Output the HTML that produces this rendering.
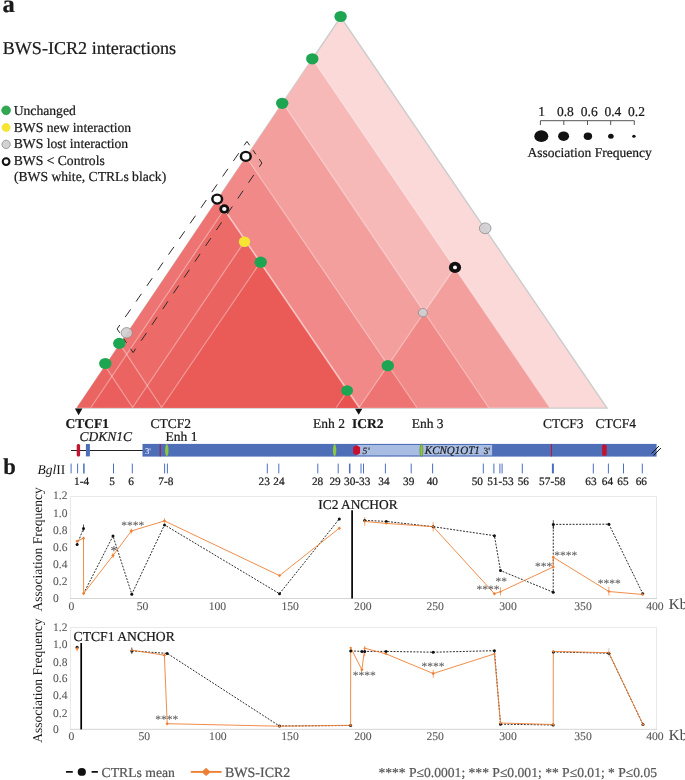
<!DOCTYPE html>
<html lang="en">
<head>
<meta charset="utf-8">
<title>BWS-ICR2 interactions</title>
<style>
html,body{margin:0;padding:0;background:#fff;}
body{width:685px;height:780px;overflow:hidden;}
svg{display:block;font-family:"Liberation Serif", "DejaVu Serif", serif;}
text{white-space:pre;text-rendering:geometricPrecision;}
</style>
</head>
<body>
<svg width="685" height="780" viewBox="0 0 685 780">
<rect width="685" height="780" fill="#fff"/>
<g id="heat">
<polygon points="76.8,408.1 340.7,17.0 607.0,408.1" fill="#fad9d8" stroke="#cccccc" stroke-width="1.4" stroke-linejoin="miter"/>
<polygon points="77.2,407.5 312.4,59.0 549.7,407.5" fill="#f7b9b8"/>
<polygon points="77.2,407.5 282.8,102.8 488.6,407.5" fill="#f39f9d"/>
<polygon points="77.2,407.5 246.2,157.0 416.8,407.5" fill="#f08987"/>
<polygon points="77.2,407.5 217.5,199.6 359.2,407.5" fill="#ed7472"/>
<polygon points="90.9,407.5 224.2,209.5 359.2,407.5" fill="#ec6b68"/>
<polygon points="132.6,407.5 245.3,240.4 359.2,407.5" fill="#ea6360"/>
<polygon points="161.6,407.5 260.3,262.4 359.2,407.5" fill="#ea5b58"/>
<polygon points="359.2,407.5 454.6,267.9 549.7,407.5" fill="#f39f9d"/>
<polygon points="359.2,407.5 424.3,312.3 488.6,407.5" fill="#f08987"/>
<polygon points="359.2,407.5 388.1,365.3 416.8,407.5" fill="#ed7472"/>
<polygon points="336.3,407.5 347.7,390.7 359.2,407.5" fill="#e8524f"/>
<polygon points="77.2,407.5 119.9,344.2 161.6,407.5" fill="#e8514e" fill-opacity="0.25"/>
<polygon points="77.2,407.5 105.1,366.1 132.6,407.5" fill="#e8514e" fill-opacity="0.25"/>
<line x1="312.4" y1="59.0" x2="549.7" y2="407.5" stroke="#fff" stroke-opacity="0.38" stroke-width="1.2"/>
<line x1="282.8" y1="102.8" x2="488.6" y2="407.5" stroke="#fff" stroke-opacity="0.38" stroke-width="1.2"/>
<line x1="246.2" y1="157.0" x2="416.8" y2="407.5" stroke="#fff" stroke-opacity="0.38" stroke-width="1.2"/>
<line x1="217.5" y1="199.6" x2="359.2" y2="407.5" stroke="#fff" stroke-opacity="0.62" stroke-width="1.5"/>
<line x1="90.9" y1="407.5" x2="224.2" y2="209.5" stroke="#fff" stroke-opacity="0.38" stroke-width="1.2"/>
<line x1="132.6" y1="407.5" x2="245.3" y2="240.4" stroke="#fff" stroke-opacity="0.38" stroke-width="1.2"/>
<line x1="161.6" y1="407.5" x2="260.3" y2="262.4" stroke="#fff" stroke-opacity="0.38" stroke-width="1.2"/>
<line x1="336.3" y1="407.5" x2="347.7" y2="390.7" stroke="#fff" stroke-opacity="0.38" stroke-width="1.2"/>
<line x1="359.2" y1="407.5" x2="454.6" y2="267.9" stroke="#fff" stroke-opacity="0.38" stroke-width="1.2"/>
<line x1="105.1" y1="366.1" x2="132.6" y2="407.5" stroke="#fff" stroke-opacity="0.38" stroke-width="1.2"/>
<line x1="119.9" y1="344.2" x2="161.6" y2="407.5" stroke="#fff" stroke-opacity="0.38" stroke-width="1.2"/>
</g>
<path d="M246.9 141.4L244.2 145.3M238.8 153.2L233.4 160.9M227.9 168.8L222.6 176.5M217.1 184.4L211.8 192.1M206.3 200.0L201.0 207.8M195.5 215.7L190.1 223.4M184.7 231.3L179.3 239.0M173.9 246.9L168.5 254.6M163.0 262.5L157.7 270.3M152.2 278.2L146.9 285.9M141.4 293.8L136.1 301.5M130.6 309.4L125.2 317.1M119.8 325.0L117.1 328.9M261.9 163.0L259.3 166.9M253.8 174.9L248.5 182.7M243.1 190.7L237.8 198.5M232.3 206.5L227.1 214.3M221.6 222.3L216.3 230.1M210.9 238.1L205.6 245.9M200.1 253.9L194.9 261.7M189.4 269.7L184.1 277.5M178.7 285.5L173.4 293.3M167.9 301.3L162.7 309.1M157.2 317.1L151.9 324.9M146.5 332.9L141.2 340.7M135.7 348.7L133.1 352.6M246.9 141.4L249.6 145.3M253.0 150.1L255.8 154.3M259.2 159.1L261.9 163.0M117.1 328.9L119.7 332.8M123.7 338.7L126.5 342.8M130.5 348.7L133.1 352.6" fill="none" stroke="#2b2b2b" stroke-width="1"/>
<ellipse cx="340.6" cy="16.5" rx="6.2" ry="5.6" fill="#1ea552"/>
<ellipse cx="312.3" cy="58.8" rx="6.2" ry="5.6" fill="#1ea552"/>
<ellipse cx="282.2" cy="103.3" rx="6.2" ry="5.6" fill="#1ea552"/>
<ellipse cx="260.7" cy="262.2" rx="6.2" ry="5.6" fill="#1ea552"/>
<ellipse cx="347.1" cy="390.5" rx="5.9" ry="5.3" fill="#1ea552"/>
<ellipse cx="387.8" cy="365.7" rx="6.2" ry="5.6" fill="#1ea552"/>
<ellipse cx="105.3" cy="363.5" rx="6.2" ry="5.6" fill="#1ea552"/>
<ellipse cx="119.3" cy="343.4" rx="6.2" ry="5.6" fill="#1ea552"/>
<ellipse cx="126.7" cy="332.8" rx="5.6" ry="5.21" fill="#cfcfd3" fill-opacity="0.9" stroke="#8a8a8a" stroke-width="0.8"/>
<ellipse cx="485.2" cy="228.3" rx="5.8" ry="5.39" fill="#cfcfd3" fill-opacity="0.9" stroke="#8a8a8a" stroke-width="0.8"/>
<ellipse cx="422.9" cy="312.7" rx="4.5" ry="4.19" fill="#cfcfd3" fill-opacity="0.9" stroke="#8a8a8a" stroke-width="0.8"/>
<ellipse cx="244.5" cy="241.7" rx="5.7" ry="5.2" fill="#f7e534"/>
<ellipse cx="245.8" cy="156.4" rx="6.1" ry="5.61" fill="#111"/>
<ellipse cx="245.8" cy="156.4" rx="3.6" ry="3.31" fill="#fff"/>
<ellipse cx="217.2" cy="199.1" rx="6.1" ry="5.61" fill="#111"/>
<ellipse cx="217.2" cy="199.1" rx="3.6" ry="3.31" fill="#fff"/>
<ellipse cx="224.3" cy="208.9" rx="5.0" ry="4.60" fill="#111"/>
<ellipse cx="224.3" cy="208.9" rx="2.2" ry="2.02" fill="#fff"/>
<ellipse cx="455" cy="267.4" rx="6.1" ry="5.61" fill="#111"/>
<ellipse cx="455" cy="267.4" rx="2.0" ry="1.84" fill="#fff"/>
<text x="2.5" y="11.9" font-size="24.5" font-weight="bold" fill="#1a1a1a" stroke="#1a1a1a" stroke-width="0.22">a</text>
<text x="2.7" y="53.7" font-size="18.1" fill="#1a1a1a" stroke="#1a1a1a" stroke-width="0.22">BWS-ICR2 interactions</text>
<circle cx="6.1" cy="110.3" r="4.4" fill="#2fa84f" stroke="#1d8f3f" stroke-width="0.6"/>
<text x="13.7" y="115" font-size="13.65" fill="#1a1a1a" stroke="#1a1a1a" stroke-width="0.22">Unchanged</text>
<circle cx="6.1" cy="127.5" r="4.4" fill="#f7e534"/>
<text x="13.7" y="131.6" font-size="13.65" fill="#1a1a1a" stroke="#1a1a1a" stroke-width="0.22">BWS new interaction</text>
<circle cx="6.1" cy="144.4" r="4.2" fill="#d2d2d2" stroke="#808080" stroke-width="0.7"/>
<text x="13.7" y="148.3" font-size="13.65" fill="#1a1a1a" stroke="#1a1a1a" stroke-width="0.22">BWS lost interaction</text>
<circle cx="6.1" cy="161.6" r="3.4" fill="#fff" stroke="#111" stroke-width="2"/>
<text x="13.7" y="165.2" font-size="13.65" fill="#1a1a1a" stroke="#1a1a1a" stroke-width="0.22">BWS &lt; Controls</text>
<text x="13.9" y="181" font-size="13.65" fill="#1a1a1a" stroke="#1a1a1a" stroke-width="0.22">(BWS white, CTRLs black)</text>
<text x="541.5" y="115.8" font-size="13.5" text-anchor="middle" fill="#1a1a1a" stroke="#1a1a1a" stroke-width="0.22">1</text>
<text x="565.4" y="115.8" font-size="13.5" text-anchor="middle" fill="#1a1a1a" stroke="#1a1a1a" stroke-width="0.22">0.8</text>
<text x="589.2" y="115.8" font-size="13.5" text-anchor="middle" fill="#1a1a1a" stroke="#1a1a1a" stroke-width="0.22">0.6</text>
<text x="612.9" y="115.8" font-size="13.5" text-anchor="middle" fill="#1a1a1a" stroke="#1a1a1a" stroke-width="0.22">0.4</text>
<text x="636.5" y="115.8" font-size="13.5" text-anchor="middle" fill="#1a1a1a" stroke="#1a1a1a" stroke-width="0.22">0.2</text>
<path d="M540.4 125 V120.7 H634.3 V125 M563.8 120.7 V125 M587.5 120.7 V125 M610.7 120.7 V125" fill="none" stroke="#555" stroke-width="1"/>
<ellipse cx="541.3" cy="136.2" rx="7" ry="5.9" fill="#111"/>
<ellipse cx="563.6" cy="136.2" rx="5.5" ry="4.8" fill="#111"/>
<ellipse cx="587.9" cy="136.2" rx="4.2" ry="3.7" fill="#111"/>
<ellipse cx="610.9" cy="136.2" rx="2.8" ry="2.5" fill="#111"/>
<ellipse cx="633.9" cy="136.2" rx="1.7" ry="1.5" fill="#111"/>
<text x="527.6" y="157.4" font-size="13.5" fill="#1a1a1a" stroke="#1a1a1a" stroke-width="0.22">Association Frequency</text>
<polygon points="74.9,408.4 82.4,408.4 78.65,415.2" fill="#111"/>
<polygon points="355.1,408.8 362.3,408.8 358.7,414.8" fill="#111"/>
<text x="65.6" y="428.2" font-size="13.5" font-weight="bold" fill="#1a1a1a" stroke="#1a1a1a" stroke-width="0.22">CTCF1</text>
<text x="79.6" y="440.7" font-size="13.5" font-style="italic" fill="#1a1a1a" stroke="#1a1a1a" stroke-width="0.22">CDKN1C</text>
<text x="150.6" y="428.3" font-size="13.5" fill="#1a1a1a" stroke="#1a1a1a" stroke-width="0.22">CTCF2</text>
<text x="165.6" y="440.7" font-size="13.5" fill="#1a1a1a" stroke="#1a1a1a" stroke-width="0.22">Enh 1</text>
<text x="313.1" y="428.2" font-size="13.5" fill="#1a1a1a" stroke="#1a1a1a" stroke-width="0.22">Enh 2</text>
<text x="352" y="428.2" font-size="13.5" font-weight="bold" fill="#1a1a1a" stroke="#1a1a1a" stroke-width="0.22">ICR2</text>
<text x="411.7" y="428.2" font-size="13.5" fill="#1a1a1a" stroke="#1a1a1a" stroke-width="0.22">Enh 3</text>
<text x="543.1" y="428.2" font-size="13.5" fill="#1a1a1a" stroke="#1a1a1a" stroke-width="0.22">CTCF3</text>
<text x="595.4" y="428.2" font-size="13.5" fill="#1a1a1a" stroke="#1a1a1a" stroke-width="0.22">CTCF4</text>
<line x1="71" y1="450.5" x2="143" y2="450.5" stroke="#222" stroke-width="1"/>
<rect x="76.7" y="444.0" width="3.4" height="12.4" rx="1.5" fill="#c2132f"/>
<rect x="85.9" y="444.0" width="4" height="12.4" fill="#4e6fb8"/>
<rect x="142.5" y="443.9" width="514.1" height="12.7" fill="#4e6fb8"/>
<rect x="356" y="445.0" width="136.1" height="10.4" fill="#a9bde3"/>
<text x="145" y="453.7" font-size="8.6" fill="#fff">3'</text>
<line x1="160.2" y1="444" x2="160.2" y2="456.4" stroke="#a3173a" stroke-width="1"/>
<ellipse cx="166.8" cy="450.2" rx="1.7" ry="6.1" fill="#8dc63f"/>
<ellipse cx="334.6" cy="450.2" rx="1.7" ry="6.1" fill="#8dc63f"/>
<ellipse cx="421.4" cy="450.3" rx="1.5" ry="6.2" fill="#8dc63f" stroke="#5f7f2c" stroke-width="0.6"/>
<polygon points="356.6,445.0 360.1,447.3 360.1,453.3 356.6,455.2 353.1,453.3 353.1,447.3" fill="#c8102e"/>
<text x="362.6" y="453.9" font-size="9.7" font-style="italic" fill="#2a2a2a" stroke="#2a2a2a" stroke-width="0.22">5'</text>
<text x="424.8" y="453.9" font-size="11.5" font-style="italic" fill="#1a1a1a" textLength="55" lengthAdjust="spacingAndGlyphs" stroke="#1a1a1a" stroke-width="0.22">KCNQ1OT1</text>
<text x="483.4" y="453.9" font-size="9.5" fill="#1a1a1a" stroke="#1a1a1a" stroke-width="0.22">3'</text>
<line x1="551.4" y1="444" x2="551.4" y2="456.4" stroke="#c2132f" stroke-width="1"/>
<rect x="602.1" y="444.6" width="4.6" height="11.2" rx="1.5" fill="#c2132f"/>
<path d="M651.5 453.5 L658.9 446.1 M653.5 455.5 L660.9 448.0" stroke="#111" stroke-width="1" fill="none"/>
<text x="3.2" y="473.6" font-size="22.6" font-weight="bold" fill="#1a1a1a" stroke="#1a1a1a" stroke-width="0.22">b</text>
<text x="37.6" y="473.6" font-size="13.5" fill="#1a1a1a"><tspan font-style="italic">Bgl</tspan>II</text>
<line x1="71.1" y1="463.6" x2="71.1" y2="473.4" stroke="#4a6fc4" stroke-width="1"/>
<line x1="77.6" y1="463.6" x2="77.6" y2="473.4" stroke="#4a6fc4" stroke-width="1"/>
<line x1="83.9" y1="463.6" x2="83.9" y2="473.4" stroke="#4a6fc4" stroke-width="1.5"/>
<line x1="113.5" y1="463.6" x2="113.5" y2="473.4" stroke="#4a6fc4" stroke-width="1"/>
<line x1="132.3" y1="463.6" x2="132.3" y2="473.4" stroke="#4a6fc4" stroke-width="1"/>
<line x1="164.6" y1="463.6" x2="164.6" y2="473.4" stroke="#4a6fc4" stroke-width="1"/>
<line x1="167.4" y1="463.6" x2="167.4" y2="473.4" stroke="#4a6fc4" stroke-width="1"/>
<line x1="267.3" y1="463.6" x2="267.3" y2="473.4" stroke="#4a6fc4" stroke-width="1"/>
<line x1="278.8" y1="463.6" x2="278.8" y2="473.4" stroke="#4a6fc4" stroke-width="1"/>
<line x1="317.8" y1="463.6" x2="317.8" y2="473.4" stroke="#4a6fc4" stroke-width="1"/>
<line x1="338.2" y1="463.6" x2="338.2" y2="473.4" stroke="#4a6fc4" stroke-width="1"/>
<line x1="349.7" y1="463.6" x2="349.7" y2="473.4" stroke="#4a6fc4" stroke-width="1.5"/>
<line x1="361" y1="463.6" x2="361" y2="473.4" stroke="#4a6fc4" stroke-width="1"/>
<line x1="363.5" y1="463.6" x2="363.5" y2="473.4" stroke="#4a6fc4" stroke-width="1"/>
<line x1="385.4" y1="463.6" x2="385.4" y2="473.4" stroke="#4a6fc4" stroke-width="1"/>
<line x1="411.2" y1="463.6" x2="411.2" y2="473.4" stroke="#4a6fc4" stroke-width="1"/>
<line x1="432.6" y1="463.6" x2="432.6" y2="473.4" stroke="#4a6fc4" stroke-width="1"/>
<line x1="483.3" y1="463.6" x2="483.3" y2="473.4" stroke="#4a6fc4" stroke-width="1"/>
<line x1="493.9" y1="463.6" x2="493.9" y2="473.4" stroke="#4a6fc4" stroke-width="1"/>
<line x1="499.9" y1="463.6" x2="499.9" y2="473.4" stroke="#4a6fc4" stroke-width="1"/>
<line x1="502.1" y1="463.6" x2="502.1" y2="473.4" stroke="#4a6fc4" stroke-width="1"/>
<line x1="522.3" y1="463.6" x2="522.3" y2="473.4" stroke="#4a6fc4" stroke-width="1"/>
<line x1="552.9" y1="463.6" x2="552.9" y2="473.4" stroke="#4a6fc4" stroke-width="2"/>
<line x1="593.3" y1="463.6" x2="593.3" y2="473.4" stroke="#4a6fc4" stroke-width="1"/>
<line x1="608.4" y1="463.6" x2="608.4" y2="473.4" stroke="#4a6fc4" stroke-width="1"/>
<line x1="623.5" y1="463.6" x2="623.5" y2="473.4" stroke="#4a6fc4" stroke-width="1"/>
<line x1="642.3" y1="463.6" x2="642.3" y2="473.4" stroke="#4a6fc4" stroke-width="1"/>
<text x="81.6" y="484.9" font-size="11.3" text-anchor="middle" fill="#1a1a1a" stroke="#1a1a1a" stroke-width="0.22">1-4</text>
<text x="112" y="484.9" font-size="11.3" text-anchor="middle" fill="#1a1a1a" stroke="#1a1a1a" stroke-width="0.22">5</text>
<text x="131" y="484.9" font-size="11.3" text-anchor="middle" fill="#1a1a1a" stroke="#1a1a1a" stroke-width="0.22">6</text>
<text x="165.9" y="484.9" font-size="11.3" text-anchor="middle" fill="#1a1a1a" stroke="#1a1a1a" stroke-width="0.22">7-8</text>
<text x="264.2" y="484.9" font-size="11.3" text-anchor="middle" fill="#1a1a1a" stroke="#1a1a1a" stroke-width="0.22">23</text>
<text x="279" y="484.9" font-size="11.3" text-anchor="middle" fill="#1a1a1a" stroke="#1a1a1a" stroke-width="0.22">24</text>
<text x="317.6" y="484.9" font-size="11.3" text-anchor="middle" fill="#1a1a1a" stroke="#1a1a1a" stroke-width="0.22">28</text>
<text x="335.1" y="484.9" font-size="11.3" text-anchor="middle" fill="#1a1a1a" stroke="#1a1a1a" stroke-width="0.22">29</text>
<text x="357.2" y="484.9" font-size="11.3" text-anchor="middle" fill="#1a1a1a" stroke="#1a1a1a" stroke-width="0.22">30-33</text>
<text x="383.9" y="484.9" font-size="11.3" text-anchor="middle" fill="#1a1a1a" stroke="#1a1a1a" stroke-width="0.22">34</text>
<text x="408.7" y="484.9" font-size="11.3" text-anchor="middle" fill="#1a1a1a" stroke="#1a1a1a" stroke-width="0.22">39</text>
<text x="432.3" y="484.9" font-size="11.3" text-anchor="middle" fill="#1a1a1a" stroke="#1a1a1a" stroke-width="0.22">40</text>
<text x="477.3" y="484.9" font-size="11.3" text-anchor="middle" fill="#1a1a1a" stroke="#1a1a1a" stroke-width="0.22">50</text>
<text x="500.4" y="484.9" font-size="11.3" text-anchor="middle" fill="#1a1a1a" stroke="#1a1a1a" stroke-width="0.22">51-53</text>
<text x="523.3" y="484.9" font-size="11.3" text-anchor="middle" fill="#1a1a1a" stroke="#1a1a1a" stroke-width="0.22">56</text>
<text x="552.3" y="484.9" font-size="11.3" text-anchor="middle" fill="#1a1a1a" stroke="#1a1a1a" stroke-width="0.22">57-58</text>
<text x="591" y="484.9" font-size="11.3" text-anchor="middle" fill="#1a1a1a" stroke="#1a1a1a" stroke-width="0.22">63</text>
<text x="607.4" y="484.9" font-size="11.3" text-anchor="middle" fill="#1a1a1a" stroke="#1a1a1a" stroke-width="0.22">64</text>
<text x="623" y="484.9" font-size="11.3" text-anchor="middle" fill="#1a1a1a" stroke="#1a1a1a" stroke-width="0.22">65</text>
<text x="641.3" y="484.9" font-size="11.3" text-anchor="middle" fill="#1a1a1a" stroke="#1a1a1a" stroke-width="0.22">66</text>
<path d="M70.5 598.0 V496.5 H656.5 V598.0" fill="none" stroke="#e9e9e9" stroke-width="1"/>
<line x1="70" y1="598.5" x2="657" y2="598.5" stroke="#d4d4d4" stroke-width="1"/>
<text x="53.0" y="499.40000000000003" font-size="11.5" fill="#595959" stroke="#595959" stroke-width="0.1">1.2</text>
<text x="53.0" y="516.9" font-size="11.5" fill="#595959" stroke="#595959" stroke-width="0.1">1.0</text>
<text x="53.0" y="534.4" font-size="11.5" fill="#595959" stroke="#595959" stroke-width="0.1">0.8</text>
<text x="53.0" y="551.0999999999999" font-size="11.5" fill="#595959" stroke="#595959" stroke-width="0.1">0.6</text>
<text x="53.0" y="567.6999999999999" font-size="11.5" fill="#595959" stroke="#595959" stroke-width="0.1">0.4</text>
<text x="53.0" y="585.4" font-size="11.5" fill="#595959" stroke="#595959" stroke-width="0.1">0.2</text>
<text x="53.0" y="602.3" font-size="11.5" fill="#595959" stroke="#595959" stroke-width="0.1">0</text>
<text x="71.3" y="609.5" font-size="11.7" text-anchor="middle" fill="#595959" stroke="#595959" stroke-width="0.1">0</text>
<text x="142.5" y="609.5" font-size="11.7" text-anchor="middle" fill="#595959" stroke="#595959" stroke-width="0.1">50</text>
<text x="217.4" y="609.5" font-size="11.7" text-anchor="middle" fill="#595959" stroke="#595959" stroke-width="0.1">100</text>
<text x="290.2" y="609.5" font-size="11.7" text-anchor="middle" fill="#595959" stroke="#595959" stroke-width="0.1">150</text>
<text x="362.8" y="609.5" font-size="11.7" text-anchor="middle" fill="#595959" stroke="#595959" stroke-width="0.1">200</text>
<text x="435.2" y="609.5" font-size="11.7" text-anchor="middle" fill="#595959" stroke="#595959" stroke-width="0.1">250</text>
<text x="508" y="609.5" font-size="11.7" text-anchor="middle" fill="#595959" stroke="#595959" stroke-width="0.1">300</text>
<text x="583" y="609.5" font-size="11.7" text-anchor="middle" fill="#595959" stroke="#595959" stroke-width="0.1">350</text>
<text x="654.9" y="609.5" font-size="11.7" text-anchor="middle" fill="#595959" stroke="#595959" stroke-width="0.1">400</text>
<text x="668.8" y="609.0" font-size="15" fill="#4a4a4a" stroke="#4a4a4a" stroke-width="0.1">Kb</text>
<text transform="translate(42.2,549.4) rotate(-90)" font-size="13.5" text-anchor="middle" fill="#1a1a1a">Association Frequency</text>
<text x="318.2" y="508.9" font-size="13.45" fill="#1a1a1a" stroke="#1a1a1a" stroke-width="0.22">IC2 ANCHOR</text>
<line x1="352.1" y1="510.2" x2="352.1" y2="598.6" stroke="#000" stroke-width="1.7"/>
<polyline points="77.1,544.5 83.5,528.4" fill="none" stroke="#111" stroke-width="0.9" stroke-dasharray="1.9 1.4"/>
<polyline points="83.6,593.5 113,536 131.8,594.2 164.5,524.9 279.5,593.7 339.3,518.9" fill="none" stroke="#111" stroke-width="0.9" stroke-dasharray="1.9 1.4"/>
<polyline points="364.7,520.4 386.3,521.4 433.2,526.7 494.4,535.7 500.5,570.6 553.2,592.2 553.3,524.4 608.9,524.2 642.8,593.7" fill="none" stroke="#111" stroke-width="0.9" stroke-dasharray="1.9 1.4"/>
<polyline points="77.1,541.2 83.5,538.2 83.6,593.5 113,555.5 131.3,531 164.5,520.9 279.5,575.6 339.3,528.2" fill="none" stroke="#ee8035" stroke-width="0.9" stroke-linejoin="round"/>
<polyline points="364.7,521.4 386.3,523.4 433.2,526.7 494.4,593.7 500.5,591.7 553.2,567 553.3,557.3 608.9,591.5 642.8,594.5" fill="none" stroke="#ee8035" stroke-width="0.9" stroke-linejoin="round"/>
<line x1="83.5" y1="524.5" x2="83.5" y2="531.5" stroke="#111" stroke-width="0.7"/>
<line x1="364.7" y1="517.1" x2="364.7" y2="525.7" stroke="#ee8035" stroke-width="0.7"/>
<line x1="433.2" y1="522.2" x2="433.2" y2="531.5" stroke="#ee8035" stroke-width="0.7"/>
<line x1="500.5" y1="587.4" x2="500.5" y2="595.5" stroke="#ee8035" stroke-width="0.7"/>
<line x1="608.9" y1="586.7" x2="608.9" y2="595.5" stroke="#ee8035" stroke-width="0.7"/>
<line x1="553.3" y1="520.2" x2="553.3" y2="529" stroke="#111" stroke-width="0.7"/>
<line x1="131.3" y1="528.5" x2="131.3" y2="533.5" stroke="#ee8035" stroke-width="0.7"/>
<line x1="164.5" y1="518.2" x2="164.5" y2="523.4" stroke="#ee8035" stroke-width="0.7"/>
<line x1="113" y1="552.8" x2="113" y2="558" stroke="#ee8035" stroke-width="0.7"/>
<circle cx="77.1" cy="544.5" r="1.5" fill="#111"/>
<circle cx="83.5" cy="528.4" r="1.5" fill="#111"/>
<circle cx="113" cy="536" r="1.5" fill="#111"/>
<circle cx="131.8" cy="594.2" r="1.5" fill="#111"/>
<circle cx="164.5" cy="524.9" r="1.5" fill="#111"/>
<circle cx="279.5" cy="593.7" r="1.5" fill="#111"/>
<circle cx="339.3" cy="518.9" r="1.5" fill="#111"/>
<circle cx="364.7" cy="520.4" r="1.5" fill="#111"/>
<circle cx="386.3" cy="521.4" r="1.5" fill="#111"/>
<circle cx="433.2" cy="526.7" r="1.5" fill="#111"/>
<circle cx="494.4" cy="535.7" r="1.5" fill="#111"/>
<circle cx="500.5" cy="570.6" r="1.5" fill="#111"/>
<circle cx="553.2" cy="592.2" r="1.5" fill="#111"/>
<circle cx="553.3" cy="524.4" r="1.5" fill="#111"/>
<circle cx="608.9" cy="524.2" r="1.5" fill="#111"/>
<circle cx="642.8" cy="593.7" r="1.5" fill="#111"/>
<path d="M75.4 541.2 L77.1 539.5 L78.8 541.2 L77.1 542.9Z" fill="#ee8035"/>
<path d="M81.8 538.2 L83.5 536.5 L85.2 538.2 L83.5 539.9Z" fill="#ee8035"/>
<path d="M81.9 593.5 L83.6 591.8 L85.3 593.5 L83.6 595.2Z" fill="#ee8035"/>
<path d="M111.3 555.5 L113 553.8 L114.7 555.5 L113 557.2Z" fill="#ee8035"/>
<path d="M129.6 531 L131.3 529.3 L133.0 531 L131.3 532.7Z" fill="#ee8035"/>
<path d="M162.8 520.9 L164.5 519.2 L166.2 520.9 L164.5 522.6Z" fill="#ee8035"/>
<path d="M277.8 575.6 L279.5 573.9 L281.2 575.6 L279.5 577.3Z" fill="#ee8035"/>
<path d="M337.6 528.2 L339.3 526.5 L341.0 528.2 L339.3 529.9Z" fill="#ee8035"/>
<path d="M363.3 521.4 L364.7 520.0 L366.1 521.4 L364.7 522.8Z" fill="#ee8035"/>
<path d="M384.9 523.4 L386.3 522.0 L387.7 523.4 L386.3 524.8Z" fill="#ee8035"/>
<path d="M431.8 526.7 L433.2 525.4 L434.6 526.7 L433.2 528.1Z" fill="#ee8035"/>
<path d="M492.7 593.7 L494.4 592.0 L496.1 593.7 L494.4 595.4Z" fill="#ee8035"/>
<path d="M499.1 591.7 L500.5 590.4 L501.9 591.7 L500.5 593.1Z" fill="#ee8035"/>
<path d="M551.5 567 L553.2 565.3 L554.9 567 L553.2 568.7Z" fill="#ee8035"/>
<path d="M551.6 557.3 L553.3 555.6 L555.0 557.3 L553.3 559.0Z" fill="#ee8035"/>
<path d="M607.5 591.5 L608.9 590.1 L610.2 591.5 L608.9 592.9Z" fill="#ee8035"/>
<path d="M641.4 594.5 L642.8 593.1 L644.1 594.5 L642.8 595.9Z" fill="#ee8035"/>
<text x="121.2" y="529.0" font-size="11.5" fill="#606060" stroke="#606060" stroke-width="0.1">****</text>
<text x="110.5" y="555.4" font-size="13.5" fill="#606060" stroke="#606060" stroke-width="0.1">*</text>
<text x="476.5" y="592.5" font-size="11.5" fill="#606060" stroke="#606060" stroke-width="0.1">****</text>
<text x="495.4" y="585.0" font-size="11.5" fill="#606060" stroke="#606060" stroke-width="0.1">**</text>
<text x="535.0" y="569.9" font-size="11.5" fill="#606060" stroke="#606060" stroke-width="0.1">***</text>
<text x="554.3" y="558.6" font-size="11.5" fill="#606060" stroke="#606060" stroke-width="0.1">****</text>
<text x="597.8" y="586.5" font-size="11.5" fill="#606060" stroke="#606060" stroke-width="0.1">****</text>
<path d="M70.5 728.8 V627.5 H656.5 V728.8" fill="none" stroke="#e9e9e9" stroke-width="1"/>
<line x1="70" y1="729.3" x2="657" y2="729.3" stroke="#d4d4d4" stroke-width="1"/>
<text x="53.0" y="630.5999999999999" font-size="11.5" fill="#595959" stroke="#595959" stroke-width="0.1">1.2</text>
<text x="53.0" y="648.4" font-size="11.5" fill="#595959" stroke="#595959" stroke-width="0.1">1.0</text>
<text x="53.0" y="665.8" font-size="11.5" fill="#595959" stroke="#595959" stroke-width="0.1">0.8</text>
<text x="53.0" y="682.3" font-size="11.5" fill="#595959" stroke="#595959" stroke-width="0.1">0.6</text>
<text x="53.0" y="699.1999999999999" font-size="11.5" fill="#595959" stroke="#595959" stroke-width="0.1">0.4</text>
<text x="53.0" y="716.6999999999999" font-size="11.5" fill="#595959" stroke="#595959" stroke-width="0.1">0.2</text>
<text x="53.0" y="733.3" font-size="11.5" fill="#595959" stroke="#595959" stroke-width="0.1">0</text>
<text x="71.3" y="740.1999999999999" font-size="11.7" text-anchor="middle" fill="#595959" stroke="#595959" stroke-width="0.1">0</text>
<text x="144.3" y="740.1999999999999" font-size="11.7" text-anchor="middle" fill="#595959" stroke="#595959" stroke-width="0.1">50</text>
<text x="217.8" y="740.1999999999999" font-size="11.7" text-anchor="middle" fill="#595959" stroke="#595959" stroke-width="0.1">100</text>
<text x="290" y="740.1999999999999" font-size="11.7" text-anchor="middle" fill="#595959" stroke="#595959" stroke-width="0.1">150</text>
<text x="362.9" y="740.1999999999999" font-size="11.7" text-anchor="middle" fill="#595959" stroke="#595959" stroke-width="0.1">200</text>
<text x="435.2" y="740.1999999999999" font-size="11.7" text-anchor="middle" fill="#595959" stroke="#595959" stroke-width="0.1">250</text>
<text x="508" y="740.1999999999999" font-size="11.7" text-anchor="middle" fill="#595959" stroke="#595959" stroke-width="0.1">300</text>
<text x="583" y="740.1999999999999" font-size="11.7" text-anchor="middle" fill="#595959" stroke="#595959" stroke-width="0.1">350</text>
<text x="654.9" y="740.1999999999999" font-size="11.7" text-anchor="middle" fill="#595959" stroke="#595959" stroke-width="0.1">400</text>
<text x="668.8" y="739.7" font-size="15" fill="#4a4a4a" stroke="#4a4a4a" stroke-width="0.1">Kb</text>
<text transform="translate(42.2,680.6) rotate(-90)" font-size="13.5" text-anchor="middle" fill="#1a1a1a">Association Frequency</text>
<text x="73.6" y="640.5" font-size="13.65" fill="#1a1a1a" stroke="#1a1a1a" stroke-width="0.22">CTCF1 ANCHOR</text>
<line x1="81.2" y1="643.0" x2="81.2" y2="729.4" stroke="#000" stroke-width="1.7"/>
<polyline points="131.8,650.9 167.2,653.4 279.5,726 350.6,725.5" fill="none" stroke="#111" stroke-width="0.9" stroke-dasharray="1.9 1.4"/>
<polyline points="350.7,650.9 361.9,651.4 364.7,651.4 386,651.4 433.2,652.2 494.4,650.7 500.5,724.2 553.2,725" fill="none" stroke="#111" stroke-width="0.9" stroke-dasharray="1.9 1.4"/>
<polyline points="553.3,652 608.9,653.2 643,724.5" fill="none" stroke="#111" stroke-width="0.9" stroke-dasharray="1.9 1.4"/>
<polyline points="131.8,650.2 164.4,655.2 167.2,723.7 279.5,726.2 350.6,725.3 350.7,647.7 361.9,669.8 364.7,648.2 386,653.9 433.2,673.5 494.4,653.9 500.5,723 553.2,724.5 553.3,651.4 608.9,652.7 643,724.5" fill="none" stroke="#ee8035" stroke-width="0.9" stroke-linejoin="round"/>
<line x1="77.1" y1="648" x2="77.1" y2="651.3" stroke="#ee8035" stroke-width="0.7"/>
<line x1="433.2" y1="669.7" x2="433.2" y2="677.8" stroke="#ee8035" stroke-width="0.7"/>
<line x1="364.7" y1="645.9" x2="364.7" y2="656.4" stroke="#ee8035" stroke-width="0.7"/>
<line x1="131.8" y1="647.5" x2="131.8" y2="654" stroke="#111" stroke-width="0.7"/>
<line x1="608.9" y1="648" x2="608.9" y2="657" stroke="#bbb" stroke-width="0.7"/>
<circle cx="77.1" cy="647.2" r="1.5" fill="#111"/>
<circle cx="131.8" cy="650.9" r="1.5" fill="#111"/>
<circle cx="167.2" cy="653.4" r="1.5" fill="#111"/>
<circle cx="279.5" cy="726" r="1.5" fill="#111"/>
<circle cx="350.6" cy="725.5" r="1.5" fill="#111"/>
<circle cx="350.7" cy="650.9" r="1.5" fill="#111"/>
<circle cx="361.9" cy="651.4" r="1.5" fill="#111"/>
<circle cx="364.7" cy="651.4" r="1.5" fill="#111"/>
<circle cx="386" cy="651.4" r="1.5" fill="#111"/>
<circle cx="433.2" cy="652.2" r="1.5" fill="#111"/>
<circle cx="494.4" cy="650.7" r="1.5" fill="#111"/>
<circle cx="500.5" cy="724.2" r="1.5" fill="#111"/>
<circle cx="553.2" cy="725" r="1.5" fill="#111"/>
<circle cx="553.3" cy="652" r="1.5" fill="#111"/>
<circle cx="608.9" cy="653.2" r="1.5" fill="#111"/>
<circle cx="643" cy="724.5" r="1.5" fill="#111"/>
<path d="M75.4 648.6 L77.1 646.9 L78.8 648.6 L77.1 650.3Z" fill="#ee8035"/>
<path d="M130.5 650.2 L131.8 648.9 L133.2 650.2 L131.8 651.6Z" fill="#ee8035"/>
<path d="M162.7 655.2 L164.4 653.5 L166.1 655.2 L164.4 656.9Z" fill="#ee8035"/>
<path d="M165.5 723.7 L167.2 722.0 L168.9 723.7 L167.2 725.4Z" fill="#ee8035"/>
<path d="M278.1 726.2 L279.5 724.9 L280.9 726.2 L279.5 727.6Z" fill="#ee8035"/>
<path d="M349.2 725.3 L350.6 723.9 L352.0 725.3 L350.6 726.6Z" fill="#ee8035"/>
<path d="M349.3 647.7 L350.7 646.4 L352.1 647.7 L350.7 649.1Z" fill="#ee8035"/>
<path d="M360.2 669.8 L361.9 668.1 L363.6 669.8 L361.9 671.5Z" fill="#ee8035"/>
<path d="M363.3 648.2 L364.7 646.9 L366.1 648.2 L364.7 649.6Z" fill="#ee8035"/>
<path d="M384.6 653.9 L386 652.5 L387.4 653.9 L386 655.2Z" fill="#ee8035"/>
<path d="M431.5 673.5 L433.2 671.8 L434.9 673.5 L433.2 675.2Z" fill="#ee8035"/>
<path d="M493.0 653.9 L494.4 652.5 L495.8 653.9 L494.4 655.2Z" fill="#ee8035"/>
<path d="M499.1 723 L500.5 721.6 L501.9 723 L500.5 724.4Z" fill="#ee8035"/>
<path d="M551.9 724.5 L553.2 723.1 L554.6 724.5 L553.2 725.9Z" fill="#ee8035"/>
<path d="M551.9 651.4 L553.3 650.0 L554.6 651.4 L553.3 652.8Z" fill="#ee8035"/>
<path d="M607.5 652.7 L608.9 651.4 L610.2 652.7 L608.9 654.1Z" fill="#ee8035"/>
<path d="M641.6 724.5 L643 723.1 L644.4 724.5 L643 725.9Z" fill="#ee8035"/>
<text x="155.3" y="722.6" font-size="11.5" fill="#606060" stroke="#606060" stroke-width="0.1">****</text>
<text x="352.8" y="679.4" font-size="11.5" fill="#606060" stroke="#606060" stroke-width="0.1">****</text>
<text x="421.5" y="670.3" font-size="11.5" fill="#606060" stroke="#606060" stroke-width="0.1">****</text>
<path d="M66 771.9 H72.8 M91.6 771.9 H97.9" stroke="#111" stroke-width="1.9" fill="none"/>
<ellipse cx="81.8" cy="771.9" rx="4.1" ry="3.9" fill="#111"/>
<text x="101.6" y="777" font-size="13.7" fill="#555" stroke="#555" stroke-width="0.22">CTRLs mean</text>
<line x1="190.8" y1="771.9" x2="221.6" y2="771.9" stroke="#ee8035" stroke-width="1.9"/>
<path d="M201.6 771.9 L206.1 767.8 L210.6 771.9 L206.1 776Z" fill="#ee8035"/>
<text x="225.0" y="777" font-size="14" fill="#555" stroke="#555" stroke-width="0.22">BWS-ICR2</text>
<text x="378.4" y="777" font-size="13.6" fill="#595959" stroke="#595959" stroke-width="0.22">**** P≤0.0001; *** P≤0.001; ** P≤0.01; * P≤0.05</text>
</svg>
</body>
</html>
